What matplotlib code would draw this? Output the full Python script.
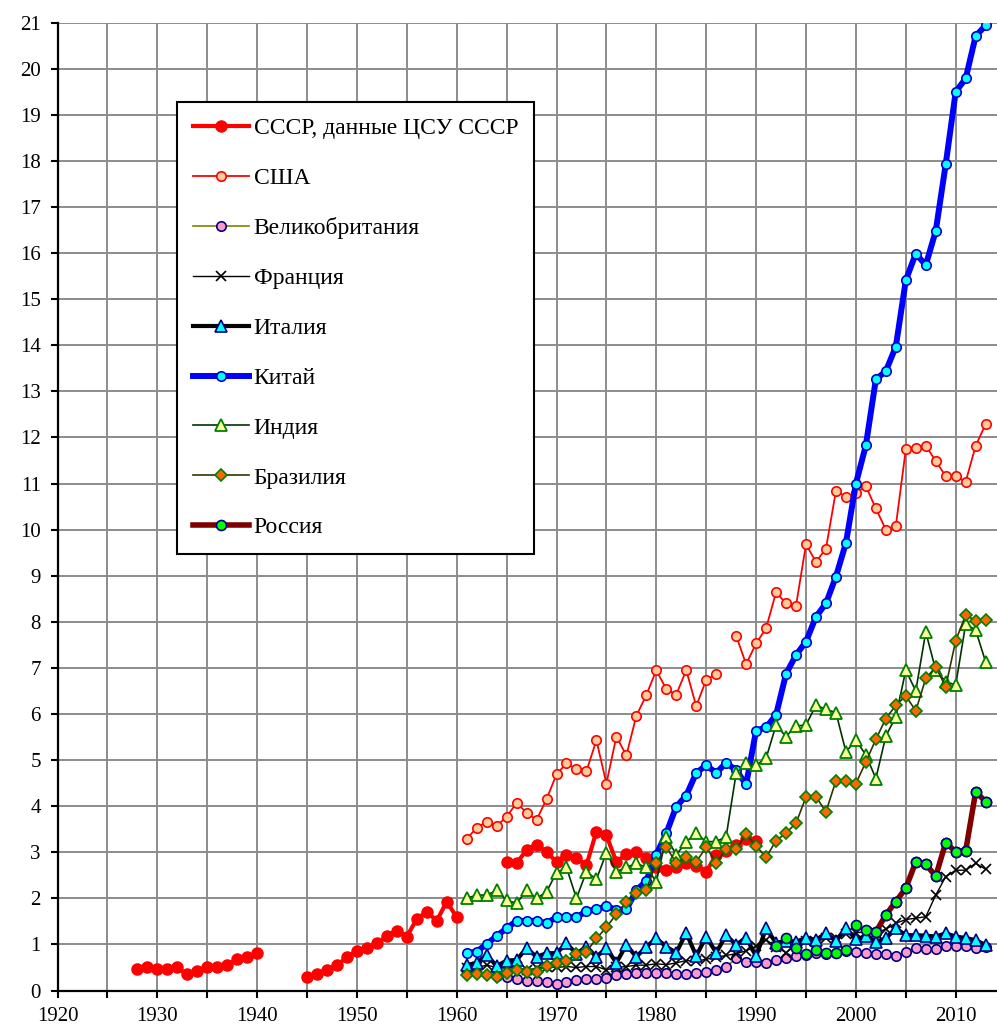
import numpy as np
import matplotlib
matplotlib.use("Agg")
import matplotlib.pyplot as plt
from matplotlib.ticker import MultipleLocator

nan = np.nan

# ---------------- data ----------------
ussr_years = np.arange(1928, 1991)
ussr = [0.47, 0.50, 0.46, 0.46, 0.50, 0.35, 0.43, 0.50, 0.50, 0.55, 0.68, 0.72, 0.81,
        nan, nan, nan, nan,
        0.30, 0.35, 0.44, 0.55, 0.72, 0.86, 0.93, 1.02, 1.18, 1.30, 1.17, 1.55, 1.71, 1.51, 1.93, 1.59,
        nan, nan, nan, nan,
        2.79, 2.76, 3.05, 3.16, 3.01, 2.79, 2.95, 2.87, 2.72, 3.45, 3.37, 2.79, 2.96, 3.00, 2.88,
        2.67, 2.61, 2.67, 2.77, 2.71, 2.58, 2.94, 3.02, 3.15, 3.29, 3.25]

years61 = np.arange(1961, 2014)
usa = [3.29, 3.53, 3.66, 3.57, 3.77, 4.07, 3.86, 3.70, 4.15, 4.69,
       4.93, 4.80, 4.76, 5.43, 4.49, 5.51, 5.10, 5.96, 6.41, 6.95,
       6.54, 6.42, 6.95, 6.17, 6.74, 6.87, nan, 7.70, 7.08, 7.53,
       7.86, 8.64, 8.40, 8.35, 9.68, 9.30, 9.59, 10.84, 10.71, 10.80,
       10.94, 10.46, 10.00, 10.08, 11.74, 11.78, 11.82, 11.49, 11.16, 11.16,
       11.04, 11.82, 12.29]

uk_years = np.arange(1964, 2014)
uk = [0.31, 0.30, 0.24, 0.21, 0.21, 0.18, 0.14,
      0.18, 0.23, 0.24, 0.25, 0.28, 0.33, 0.36, 0.38, 0.38, 0.38,
      0.37, 0.36, 0.36, 0.37, 0.41, 0.44, 0.51, 0.70, 0.62, 0.62,
      0.60, 0.66, 0.70, 0.75, 0.77, 0.82, 0.80, 0.82, 0.86, 0.84,
      0.82, 0.80, 0.80, 0.75, 0.84, 0.92, 0.89, 0.89, 0.97, 0.97,
      0.97, 0.92, 0.95]

france = [0.49, 0.50, 0.55, 0.50, 0.48, 0.50, 0.45, 0.48, 0.52, 0.50,
          0.52, 0.50, 0.52, 0.52, 0.45, 0.50, 0.52, 0.55, 0.55, 0.58,
          0.56, 0.60, 0.65, 0.63, 0.68, 0.72, 0.76, 0.80, 0.86, 0.96,
          1.10, 0.95, 0.82, 0.99, 1.08, 1.06, 1.13, 1.13, 1.23, 1.25,
          1.28, 1.25, 1.33, 1.46, 1.54, 1.57, 1.60, 2.07, 2.47, 2.61,
          2.61, 2.76, 2.63]

italy = [0.55, 0.60, 0.77, 0.53, 0.65, 0.66, 0.92, 0.73, 0.81, 0.81,
         1.02, 0.80, 0.95, 0.73, 0.92, 0.60, 0.99, 0.73, 0.95, 1.13,
         0.95, 0.82, 1.25, 0.75, 1.17, 0.82, 1.20, 0.99, 1.15, 0.74,
         1.35, 1.03, 1.08, 1.06, 1.14, 1.10, 1.24, 1.07, 1.35, 1.11,
         1.18, 1.06, 1.13, 1.35, 1.20, 1.20, 1.19, 1.17, 1.24, 1.17,
         1.14, 1.09, 0.99]

china = [0.81, 0.84, 1.01, 1.18, 1.35, 1.51, 1.51, 1.51, 1.46, 1.59,
         1.59, 1.59, 1.72, 1.76, 1.83, 1.75, 1.76, 2.17, 2.38, 2.95,
         3.41, 3.99, 4.23, 4.72, 4.89, 4.72, 4.94, 4.78, 4.47, 5.64,
         5.71, 5.98, 6.87, 7.28, 7.57, 8.11, 8.40, 8.98, 9.71, 11.00,
         11.83, 13.26, 13.44, 13.97, 15.41, 15.99, 15.74, 16.48, 17.93, 19.50,
         19.79, 20.71, 20.94]

india = [2.00, 2.07, 2.07, 2.17, 1.96, 1.89, 2.17, 2.00, 2.14, 2.56,
         2.67, 2.00, 2.58, 2.41, 2.99, 2.58, 2.67, 2.76, 2.67, 2.36,
         3.34, 2.94, 3.23, 3.41, 3.23, 3.23, 3.34, 4.71, 4.93, 4.89,
         5.04, 5.76, 5.51, 5.74, 5.76, 6.19, 6.10, 6.03, 5.18, 5.43,
         5.11, 4.60, 5.52, 5.94, 6.95, 6.50, 7.78, 6.95, 6.70, 6.63,
         7.95, 7.82, 7.13]

brazil = [0.34, 0.36, 0.34, 0.30, 0.37, 0.44, 0.41, 0.41, 0.54, 0.59,
          0.63, 0.79, 0.84, 1.13, 1.37, 1.66, 1.91, 2.11, 2.19, 2.77,
          3.11, 2.77, 2.89, 2.79, 3.11, 2.77, 3.06, 3.06, 3.39, 3.14,
          2.89, 3.25, 3.42, 3.63, 4.20, 4.20, 3.88, 4.55, 4.55, 4.49,
          4.96, 5.45, 5.90, 6.19, 6.39, 6.07, 6.77, 7.02, 6.59, 7.59,
          8.15, 8.02, 8.05]

russia_years = np.arange(1992, 2014)
russia = [0.97, 1.13, 0.93, 0.79, 0.88, 0.81, 0.81, 0.88, 1.42, 1.31,
          1.27, 1.64, 1.93, 2.22, 2.79, 2.74, 2.48, 3.21, 3.01, 3.03,
          4.31, 4.10]
russia_line_from = 2002

labels = ["СССР, данные ЦСУ СССР", "США", "Великобритания", "Франция", "Италия",
          "Китай", "Индия", "Бразилия", "Россия"]

# ---------------- figure ----------------
plt.rcParams['font.family'] = ['Liberation Serif', 'DejaVu Serif']
FS = 15
LFS = 17

fig = plt.figure(figsize=(9.97, 10.33), dpi=100)
W, H = 997, 1033
x0, y0, y1 = 57.5, 990.5, 22.7
ax = fig.add_axes([x0 / W, 1 - y0 / H, 1 - x0 / W, (y0 - y1) / H])

ax.plot(ussr_years, ussr, color='#FF0000', lw=3.0, marker='o', ms=8,
        mfc='#FF0000', mec='#FF0000', label=labels[0])
ax.plot(years61, usa, color='#FF0000', lw=1.3, marker='o', ms=6.8,
        mfc='#FFCC99', mec='#FF0000', mew=1.2, label=labels[1])
ax.plot(uk_years, uk, color='#808000', lw=1.2, marker='o', ms=6.8,
        mfc='#FF99CC', mec='#000080', mew=1.2, label=labels[2])
ax.plot(years61, france, color='#000000', lw=1.0, marker='x', ms=7.5,
        mec='#000000', mew=1.2, label=labels[3])
ax.plot(years61, italy, color='#000000', lw=3.0, marker='^', ms=8,
        mfc='#00FFFF', mec='#000080', mew=1.2, label=labels[4])
ax.plot(years61, china, color='#0000FF', lw=4.3, marker='o', ms=6.8,
        mfc='#00FFFF', mec='#0000CC', mew=1.2, label=labels[5])
ax.plot(years61, india, color='#003300', lw=1.2, marker='^', ms=8,
        mfc='#FFFF99', mec='#008000', mew=1.3, label=labels[6])
ax.plot(years61, brazil, color='#333300', lw=1.2, marker='D', ms=6.2,
        mfc='#FF6600', mec='#008000', mew=1.2, label=labels[7])

ry = np.asarray(russia_years)
rv = np.asarray(russia, dtype=float)
ax.plot(ry, rv, ls='none', marker='o', ms=7.2,
        mfc='#00FF00', mec='#000080', mew=1.2)
rv_line = np.where(ry >= russia_line_from, rv, np.nan)
ax.plot(ry, rv_line, color='#800000', lw=4.0, marker='o', ms=7.2,
        mfc='#00FF00', mec='#000080', mew=1.2, label=labels[8])

# axes
ax.set_xlim(1920, 1920 + (W - x0) / 9.98)
ax.set_ylim(0, 21)
ax.xaxis.set_major_locator(MultipleLocator(10))
ax.xaxis.set_minor_locator(MultipleLocator(5))
ax.yaxis.set_major_locator(MultipleLocator(1))
ax.grid(True, which='both', color='#8c8c8c', lw=1.4)
ax.set_axisbelow(True)
for s in ['top', 'right']:
    ax.spines[s].set_visible(False)
for s in ['left', 'bottom']:
    ax.spines[s].set_linewidth(1.6)
    ax.spines[s].set_color('black')
ax.tick_params(axis='both', which='both', direction='out', length=5, width=1.5,
               labelsize=FS, colors='black')
ax.tick_params(axis='x', pad=7)
ax.tick_params(axis='y', pad=7)

leg = ax.legend(loc='upper left', bbox_to_anchor=(177 / W, 1 - 102 / H),
                bbox_transform=fig.transFigure, borderaxespad=0,
                fontsize=LFS, frameon=True, fancybox=False, shadow=False,
                numpoints=1, handlelength=2.37, handletextpad=0.22,
                labelspacing=1.2, borderpad=0.66)
leg.get_frame().set_edgecolor('black')
leg.get_frame().set_linewidth(1.5)
leg.get_frame().set_alpha(1)

fig.savefig('out.png', dpi=100)
